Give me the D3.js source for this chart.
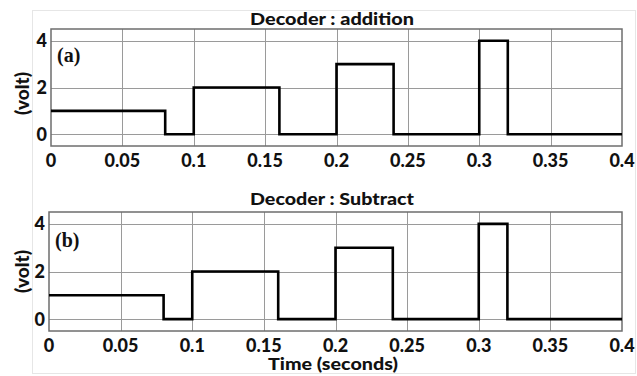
<!DOCTYPE html>
<html>
<head>
<meta charset="utf-8">
<script src="https://cdn.jsdelivr.net/npm/d3@7"></script>
<style>
  body { margin: 0; background: #fff; }
  svg text { font-family: Lato, "Open Sans", sans-serif; font-weight: 900; fill: #111; }
</style>
</head>
<body>
<svg id="chart"></svg>
<script>
const svg = d3.select("#chart");
const width = 637;
const height = 376;
svg.attr("width", width).attr("height", height);

// step signal: value holds from t[i] to t[i+1]
const times = [0, 0.08, 0.1, 0.16, 0.2, 0.24, 0.3, 0.32, 0.4];
const additionVolts = [1, 0, 2, 0, 3, 0, 4, 0, 0];
const subtractVolts = [1, 0, 2, 0, 3, 0, 4, 0, 0];
const xTicks = [0, 0.05, 0.1, 0.15, 0.2, 0.25, 0.3, 0.35, 0.4];
const yTicks = [0, 2, 4];

const panels = [
    { title: "Decoder : addition", tag: "(a)", volts: additionVolts, left: 51, right: 622, top: 29, bottom: 146, titleY: 25, labelShift: 6, tagV: 3.1 },
    { title: "Decoder : Subtract", tag: "(b)", volts: subtractVolts, left: 49, right: 622, top: 212, bottom: 331, titleY: 205, labelShift: 0, tagV: 3.05 }
];

// faint figure frame
svg.append("rect")
    .attr("x", 32.5).attr("y", 10.5)
    .attr("width", 603).attr("height", 363)
    .attr("fill", "none").attr("stroke", "#e6e6e6");

panels.forEach(function (p) {
    const x = d3.scaleLinear().domain([0, 0.4]).range([p.left, p.right]);
    const y = d3.scaleLinear().domain([-0.5, 4.5]).range([p.bottom, p.top]);
    const g = svg.append("g");

    // grid
    g.selectAll(".vgrid")
        .data(xTicks.slice(1, -1))
        .enter().append("line")
        .attr("x1", (d) => Math.round(x(d)) + 0.5).attr("x2", (d) => Math.round(x(d)) + 0.5)
        .attr("y1", p.top).attr("y2", p.bottom)
        .attr("stroke", "#9a9a9a").attr("stroke-width", 1);
    g.selectAll(".hgrid")
        .data(yTicks)
        .enter().append("line")
        .attr("x1", p.left).attr("x2", p.right)
        .attr("y1", (d) => Math.round(y(d)) + 0.5).attr("y2", (d) => Math.round(y(d)) + 0.5)
        .attr("stroke", "#9a9a9a").attr("stroke-width", 1);

    // frame
    g.append("rect")
        .attr("x", p.left).attr("y", p.top)
        .attr("width", p.right - p.left).attr("height", p.bottom - p.top)
        .attr("fill", "none").attr("stroke", "#6e6e6e").attr("stroke-width", 1.5);

    // signal
    const pts = times.map((t, i) => ({ t: t, v: p.volts[i] }));
    const line = d3.line()
        .x((d) => x(d.t))
        .y((d) => y(d.v))
        .curve(d3.curveStepAfter);
    g.append("path")
        .datum(pts)
        .attr("d", line)
        .attr("fill", "none")
        .attr("stroke", "#000")
        .attr("stroke-width", 2.6);

    // tick labels
    const tickBase = p.bottom + 21;
    g.selectAll(".xl")
        .data(xTicks)
        .enter().append("text")
        .attr("x", (d) => x(d))
        .attr("y", tickBase)
        .attr("text-anchor", "middle")
        .attr("font-size", 18)
        .text((d) => d3.format("")(d));
    g.selectAll(".yl")
        .data(yTicks)
        .enter().append("text")
        .attr("x", p.left - 4)
        .attr("y", (d) => y(d))
        .attr("dy", "0.36em")
        .attr("text-anchor", "end")
        .attr("font-size", 18)
        .text((d) => d);

    // title
    g.append("text")
        .attr("x", 332)
        .attr("y", p.titleY)
        .attr("text-anchor", "middle")
        .attr("font-size", 17)
        .attr("textLength", 164)
        .attr("lengthAdjust", "spacingAndGlyphs")
        .text(p.title);

    // y label
    g.append("text")
        .attr("transform", `translate(29,${(p.top + p.bottom) / 2 + p.labelShift}) rotate(-90)`)
        .attr("text-anchor", "middle")
        .attr("font-size", 19)
        .text("(volt)");

    // panel tag
    g.append("text")
        .attr("x", p.left + 6)
        .attr("y", y(p.tagV))
        .style("font-family", "'Liberation Serif', 'DejaVu Serif', serif")
        .style("font-weight", 700)
        .attr("font-size", 20)
        .text(p.tag);
});

svg.append("text")
    .attr("x", 333)
    .attr("y", 370)
    .attr("text-anchor", "middle")
    .attr("font-size", 16)
    .attr("textLength", 130)
    .attr("lengthAdjust", "spacingAndGlyphs")
    .text("Time (seconds)");
</script>
</body>
</html>
